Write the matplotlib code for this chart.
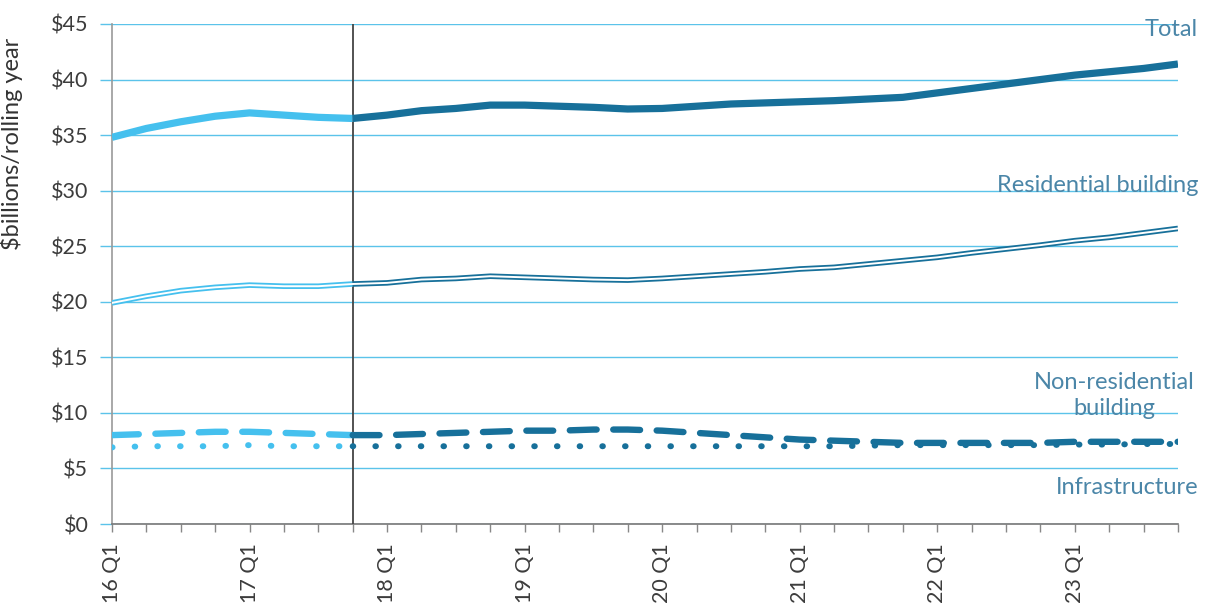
import matplotlib
matplotlib.use("Agg")
import matplotlib.pyplot as plt
import numpy as np

plt.rcParams['font.family'] = ['Lato', 'DejaVu Sans']

# Quarterly series, 2016 Q1 .. 2023 Q4 ($ billions, rolling year)
years = list(range(16, 24))
quarters = [f"{y} Q{q}" for y in years for q in range(1, 5)]

total = [34.8, 35.6, 36.2, 36.7, 37.0, 36.8, 36.6, 36.5,
         36.8, 37.2, 37.4, 37.7, 37.7, 37.6, 37.5, 37.35,
         37.4, 37.6, 37.8, 37.9, 38.0, 38.1, 38.25, 38.4,
         38.8, 39.2, 39.6, 40.0, 40.4, 40.7, 41.0, 41.4]
residential = [19.9, 20.5, 21.0, 21.3, 21.5, 21.4, 21.4, 21.6,
               21.7, 22.0, 22.1, 22.3, 22.2, 22.1, 22.0, 21.95,
               22.1, 22.3, 22.5, 22.7, 22.95, 23.1, 23.4, 23.7,
               24.0, 24.4, 24.75, 25.1, 25.5, 25.8, 26.2, 26.6]
non_residential = [8.0, 8.1, 8.2, 8.3, 8.3, 8.2, 8.1, 8.0,
                   8.0, 8.1, 8.2, 8.3, 8.4, 8.4, 8.5, 8.5,
                   8.4, 8.2, 8.0, 7.8, 7.6, 7.5, 7.4, 7.3,
                   7.3, 7.3, 7.3, 7.3, 7.4, 7.4, 7.4, 7.4]
infrastructure = [6.9, 7.0, 7.0, 7.0, 7.1, 7.0, 7.0, 7.0,
                  7.0, 7.0, 7.0, 7.0, 7.0, 7.0, 7.0, 7.0,
                  7.0, 7.0, 7.0, 7.0, 7.0, 7.0, 7.05, 7.1,
                  7.1, 7.1, 7.1, 7.1, 7.15, 7.15, 7.2, 7.2]

series_labels = ["Total", "Residential building", "Non-residential\nbuilding", "Infrastructure"]
y_ticks = [0, 5, 10, 15, 20, 25, 30, 35, 40, 45]
split_index = 7  # last actual quarter; forecast follows

light = "#45C0EE"
dark = "#17709A"
grid_c = "#5BC3EA"
label_c = "#4B86A8"
text_c = "#3C3C3C"

fig = plt.figure(figsize=(12.13, 6.06), dpi=100)
ax = fig.add_axes([0.0923, 0.1353, 0.8788, 0.8251])

x = np.arange(len(quarters))
hist = slice(0, split_index + 1)
fcst = slice(split_index, len(quarters))

def draw(vals, **kw):
    v = np.array(vals)
    ax.plot(x[hist], v[hist], color=light, **kw)
    ax.plot(x[fcst], v[fcst], color=dark, **kw)

# Total: thick solid
draw(total, lw=5.2, solid_capstyle='butt', zorder=5)
# Residential: outlined double line
draw(residential, lw=4.0, solid_capstyle='butt', zorder=5)
ax.plot(x, residential, color="white", lw=1.4, zorder=6)
# Non-residential: heavy dashes
draw(non_residential, lw=4.6, linestyle=(0, (4.2, 2.6)), dash_capstyle='round', zorder=5)
# Infrastructure: dots
draw(infrastructure, lw=4.3, linestyle=(0, (0.1, 3.7)), dash_capstyle='round', zorder=5)

# forecast divider
ax.axvline(split_index, color="#444444", lw=1.3, zorder=4)

ax.set_xlim(0, len(quarters) - 1)
ax.set_ylim(0, 45)
ax.set_yticks(y_ticks)
ax.set_yticklabels([f"${v}" for v in y_ticks], fontsize=15.5, color=text_c)
ax.yaxis.grid(True, color=grid_c, lw=1.0)
ax.set_axisbelow(True)
ax.tick_params(axis='y', length=9, color=grid_c, width=1.0, pad=8)

ax.set_xticks(x)
ax.set_xticklabels([q if q.endswith("Q1") else "" for q in quarters],
                   rotation=90, fontsize=15.5, color=text_c)
ax.tick_params(axis='x', length=6, color="#888888", width=1.0, pad=8)

for side in ("top", "right"):
    ax.spines[side].set_visible(False)
ax.spines["left"].set_color("#999999")
ax.spines["left"].set_linewidth(1.2)
ax.spines["bottom"].set_color("#777777")
ax.spines["bottom"].set_linewidth(1.2)

ax.set_ylabel("$billions/rolling year", fontsize=17, color="#333333", labelpad=4)
ax.yaxis.set_label_coords(-0.083, 0.76)

tr = ax.get_yaxis_transform()
ax.text(1.019, 44.5, series_labels[0], transform=tr,
        ha="right", va="center", fontsize=17, color=label_c)
ax.text(1.019, 30.5, series_labels[1], transform=tr,
        ha="right", va="center", fontsize=17, color=label_c)
ax.text(0.94, 11.55, series_labels[2], transform=tr,
        ha="center", va="center", fontsize=17, color=label_c, linespacing=1.3)
ax.text(1.019, 3.3, series_labels[3], transform=tr,
        ha="right", va="center", fontsize=17, color=label_c)

fig.savefig("out.png", dpi=100)
